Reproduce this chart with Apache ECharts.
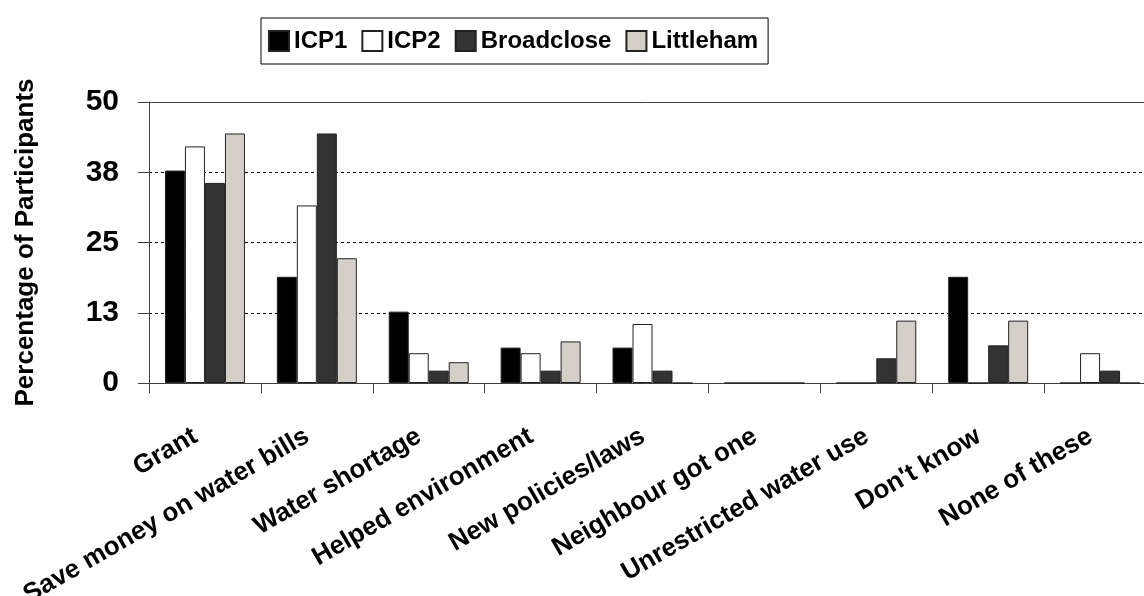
<!DOCTYPE html>
<html>
<head>
<meta charset="utf-8">
<script src="https://cdn.jsdelivr.net/npm/echarts@6/dist/echarts.min.js"></script>
<style>
  html, body { margin: 0; padding: 0; background: #fff; }
  #main { width: 1144px; height: 596px; }
</style>
</head>
<body>
<div id="main"></div>
<script>
// categories along the x axis
var categories = ['Grant', 'Save money on water bills', 'Water shortage', 'Helped environment',
  'New policies/laws', 'Neighbour got one', 'Unrestricted water use', "Don't know", 'None of these'];

// percentage of participants
var icp1 = [37.8, 18.9, 12.7, 6.3, 6.3, 0, 0, 18.9, 0];
var icp2 = [42.1, 31.6, 5.3, 5.3, 10.5, 0, 0, 0, 5.3];
var broadclose = [35.6, 44.4, 2.2, 2.2, 2.2, 0, 4.4, 6.7, 2.2];
var littleham = [44.4, 22.2, 3.7, 7.4, 0, 0, 11.1, 11.1, 0];

// y tick labels as printed (ticks every 12.5)
var yTickLabels = ['0', '13', '25', '38', '50'];

var font = 'Arial, "Liberation Sans", sans-serif';

var chart = echarts.init(document.getElementById('main'));

function barSeries(name, data, color) {
  return {
    name: name,
    type: 'bar',
    data: data,
    barWidth: 20,
    barGap: '0%',
    itemStyle: { color: color, borderColor: '#222', borderWidth: 1 }
  };
}

chart.setOption({
  animation: false,
  backgroundColor: '#fff',
  textStyle: { fontFamily: font },
  legend: {
    left: 261,
    top: 18,
    padding: [11, 10, 11, 7],
    itemWidth: 20,
    itemHeight: 20,
    itemGap: 14,
    icon: 'rect',
    borderColor: '#000',
    borderWidth: 1,
    backgroundColor: '#fff',
    textStyle: { fontSize: 24, fontWeight: 'bold', color: '#000', fontFamily: font },
    data: ['ICP1', 'ICP2', 'Broadclose', 'Littleham']
  },
  grid: { left: 149, right: -12, top: 102, bottom: 213, containLabel: false, outerBoundsMode: 'none' },
  xAxis: [{
    type: 'category',
    data: categories,
    axisLine: { lineStyle: { color: '#404040', width: 1 } },
    axisTick: { show: true, length: 10, lineStyle: { color: '#404040' } },
    axisLabel: {
      interval: 0,
      rotate: 30,
      margin: 46,
      padding: [0, 11, 0, 0],
      fontSize: 26,
      fontWeight: 'bold',
      color: '#000',
      fontFamily: font
    }
  }, {
    type: 'category',
    position: 'top',
    data: categories,
    axisLine: { show: true, lineStyle: { color: '#404040', width: 1 } },
    axisTick: { show: false },
    axisLabel: { show: false }
  }],
  yAxis: {
    type: 'value',
    min: 0,
    max: 50,
    interval: 12.5,
    name: 'Percentage of Participants',
    nameLocation: 'middle',
    nameGap: 110,
    nameTextStyle: { fontSize: 26, fontWeight: 'bold', color: '#000', fontFamily: font },
    axisLine: { show: true, lineStyle: { color: '#404040', width: 1 } },
    axisTick: { show: true, length: 11, lineStyle: { color: '#404040' } },
    axisLabel: {
      margin: 30,
      fontSize: 30,
      fontWeight: 'bold',
      color: '#000',
      fontFamily: font,
      formatter: function (v, i) { return yTickLabels[i]; }
    },
    splitLine: { show: true, lineStyle: { color: '#000', type: [3, 3], width: 1 } }
  },
  series: [
    barSeries('ICP1', icp1, '#000000'),
    barSeries('ICP2', icp2, '#ffffff'),
    barSeries('Broadclose', broadclose, '#333333'),
    barSeries('Littleham', littleham, '#d4d0c8')
  ]
});
</script>
</body>
</html>
